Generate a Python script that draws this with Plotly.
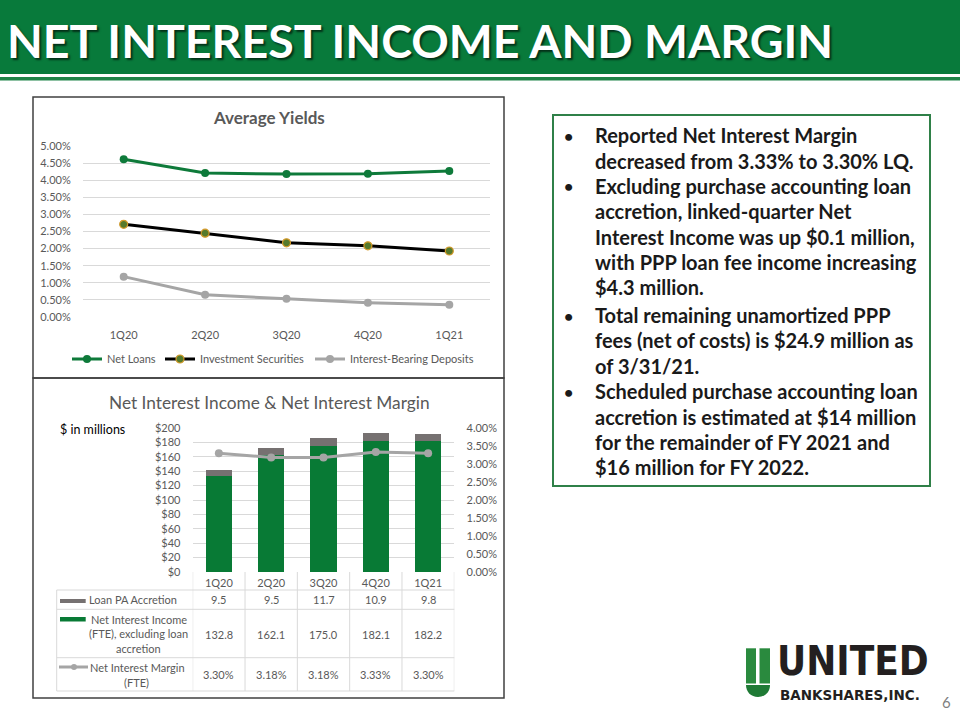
import plotly.graph_objects as go

# ---------------- data ----------------
quarters = ["1Q20", "2Q20", "3Q20", "4Q20", "1Q21"]

# Average yields (%)
net_loans = [4.61, 4.21, 4.18, 4.19, 4.27]
investment_securities = [2.71, 2.45, 2.17, 2.08, 1.93]
ib_deposits = [1.18, 0.65, 0.53, 0.42, 0.36]

# Net interest income ($ millions) and margin (%)
loan_pa_accretion = [9.5, 9.5, 11.7, 10.9, 9.8]
nii_excl_accretion = [132.8, 162.1, 175.0, 182.1, 182.2]
nim_fte = [3.30, 3.18, 3.18, 3.33, 3.30]

bullets = [
    ["Reported Net Interest Margin", "decreased from 3.33% to 3.30% LQ."],
    ["Excluding purchase accounting loan", "accretion, linked-quarter Net",
     "Interest Income was up $0.1 million,", "with PPP loan fee income increasing",
     "$4.3 million."],
    ["Total remaining unamortized PPP", "fees (net of costs) is $24.9 million as",
     "of 3/31/21."],
    ["Scheduled purchase accounting loan", "accretion is estimated at $14 million",
     "for the remainder of FY 2021 and", "$16 million for FY 2022."],
]

# ---------------- styling ----------------
W, H = 960, 720
GREEN = "#087a3b"
STRIPE = "#1f8448"
BAR_GREEN = "#087a35"
BAR_GRAY = "#767171"
LINE_GRAY = "#a5a5a5"
TXT = "#595959"
GRID = "#d9d9d9"
FONT = "Lato, 'Open Sans', sans-serif"
COND = "'DejaVu Sans Condensed', 'DejaVu Sans', sans-serif"


def px(x):
    return x / W


def py(y):
    return 1 - y / H


fig = go.Figure()

# ---- top chart: average yields ----
fig.add_trace(go.Scatter(
    x=quarters, y=net_loans, name="Net Loans", mode="lines+markers",
    line=dict(color="#0e7a3a", width=3), marker=dict(size=8, color="#0e7a3a"),
    xaxis="x", yaxis="y", legend="legend"))
fig.add_trace(go.Scatter(
    x=quarters, y=investment_securities, name="Investment Securities", mode="lines+markers",
    line=dict(color="#000000", width=3),
    marker=dict(size=8, color="#567a2c", line=dict(color="#d49a2a", width=1.2)),
    xaxis="x", yaxis="y", legend="legend2"))
fig.add_trace(go.Scatter(
    x=quarters, y=ib_deposits, name="Interest-Bearing Deposits", mode="lines+markers",
    line=dict(color=LINE_GRAY, width=3), marker=dict(size=8, color=LINE_GRAY),
    xaxis="x", yaxis="y", legend="legend3"))

# ---- bottom chart: NII & NIM ----
fig.add_trace(go.Bar(
    x=quarters, y=nii_excl_accretion, name="Net Interest Income (FTE), excluding loan accretion",
    marker=dict(color=BAR_GREEN, line=dict(width=0)), xaxis="x2", yaxis="y2", showlegend=False))
fig.add_trace(go.Bar(
    x=quarters, y=loan_pa_accretion, name="Loan PA Accretion",
    marker=dict(color=BAR_GRAY, line=dict(width=0)), xaxis="x2", yaxis="y2", showlegend=False))
fig.add_trace(go.Scatter(
    x=quarters, y=nim_fte, name="Net Interest Margin (FTE)", mode="lines+markers",
    line=dict(color=LINE_GRAY, width=3), marker=dict(size=8, color=LINE_GRAY),
    xaxis="x2", yaxis="y3", showlegend=False))

tickfont = dict(family=FONT, size=11, color=TXT)
clear = "rgba(0,0,0,0)"


def leg(x):
    return dict(orientation="h", x=px(x), y=py(359), xanchor="left", yanchor="middle",
                font=dict(family=FONT, size=11, color=TXT), bgcolor=clear,
                itemwidth=30, traceorder="normal", borderwidth=0)


fig.update_layout(
    width=W, height=H, margin=dict(l=0, r=0, t=0, b=0, pad=0, autoexpand=False),
    paper_bgcolor="white", plot_bgcolor="rgba(0,0,0,0)",
    barmode="stack", bargap=0.5,
    font=dict(family=FONT, color=TXT),
    xaxis=dict(domain=[px(83), px(490)], anchor="y", range=[-0.5, 4.5],
               showgrid=False, showline=False, zeroline=False, automargin=False,
               ticks="outside", ticklen=8, tickcolor=clear, tickfont=tickfont),
    yaxis=dict(domain=[py(317), py(146)], anchor="x", range=[0, 5.0001], dtick=0.5,
               tickformat=".2f", ticksuffix="%", gridcolor=GRID, gridwidth=1,
               zeroline=False, showline=False, automargin=False,
               ticks="outside", ticklen=9, tickcolor=clear, tickfont=tickfont),
    xaxis2=dict(domain=[px(192.7), px(454.3)], anchor="y2", range=[-0.5, 4.5],
                showgrid=False, showline=False, zeroline=False, automargin=False,
                ticks="outside", ticklen=1, tickcolor=clear, tickfont=tickfont),
    yaxis2=dict(domain=[py(572), py(428)], anchor="x2", range=[0, 200.01], dtick=20,
                tickprefix="$", gridcolor=GRID, gridwidth=1, zeroline=False, showline=False,
                automargin=False,
                ticks="outside", ticklen=9, tickcolor=clear, tickfont=tickfont),
    yaxis3=dict(overlaying="y2", anchor="x2", side="right", range=[0, 4.0001], dtick=0.5,
                tickformat=".2f", ticksuffix="%", showgrid=False, zeroline=False,
                showline=False, automargin=False,
                ticks="outside", ticklen=9, tickcolor=clear, tickfont=tickfont),
    legend=leg(67), legend2=leg(160), legend3=leg(310),
)

shapes = []
annotations = []


def note(text, x, y, size, color=TXT, family=FONT, xanchor="center", xref="paper", **fontkw):
    annotations.append(dict(text=text, x=x if xref != "paper" else px(x), y=py(y),
                            xref=xref, yref="paper", xanchor=xanchor, yanchor="middle",
                            showarrow=False,
                            font=dict(family=family, size=size, color=color, **fontkw)))


# header band
shapes.append(dict(type="rect", xref="paper", yref="paper", x0=0, x1=1, y0=py(74), y1=py(0),
                   fillcolor=GREEN, line=dict(width=0), layer="below"))
shapes.append(dict(type="rect", xref="paper", yref="paper", x0=0, x1=1, y0=py(80.5), y1=py(77),
                   fillcolor=STRIPE, line=dict(width=0), layer="below"))
note("<b>NET INTEREST INCOME AND MARGIN</b>", 5, 40, 46.5, color="white", xanchor="left",
     shadow="2px 2px 2px rgba(0,0,0,0.6)")

# chart boxes
for (y0, y1) in [(97, 378), (378, 698)]:
    shapes.append(dict(type="rect", xref="paper", yref="paper", x0=px(33), x1=px(504),
                       y0=py(y1), y1=py(y0), line=dict(color="#404040", width=1.5),
                       fillcolor=clear, layer="below"))

note("<b>Average Yields</b>", 269, 118, 17)
note("Net Interest Income & Net Interest Margin", 269, 402, 17.3)
note("$ in millions", 58, 429, 12.5, color="#000000", xanchor="left")

# data table lines
tl = dict(color=GRID, width=1)
for yy in [590, 609.3, 657.7, 691]:
    shapes.append(dict(type="line", xref="paper", yref="paper", x0=px(56.7), x1=px(454.3),
                       y0=py(yy), y1=py(yy), line=tl))
shapes.append(dict(type="line", xref="paper", yref="paper", x0=px(56.7), x1=px(56.7),
                   y0=py(590), y1=py(691), line=tl))
for k in range(len(quarters) + 1):
    shapes.append(dict(type="line", xref="x2", yref="paper", x0=k - 0.5, x1=k - 0.5,
                       y0=py(572), y1=py(691), line=tl))

# table values
row_y = [599.5, 634, 674.5]
for i, q in enumerate(quarters):
    note(f"{loan_pa_accretion[i]:.1f}", q, row_y[0], 11, xref="x2")
    note(f"{nii_excl_accretion[i]:.1f}", q, row_y[1], 11, xref="x2")
    note(f"{nim_fte[i]:.2f}%", q, row_y[2], 11, xref="x2")

# table row labels + keys
row_labels = [("Loan PA Accretion", 132.5, 599.5),
              ("Net Interest Income", 138.7, 619),
              ("(FTE), excluding loan", 138.4, 633.5),
              ("accretion", 138.8, 648),
              ("Net Interest Margin", 137, 667),
              ("(FTE)", 136.5, 682)]
for txt, xx, yy in row_labels:
    note(txt, xx, yy, 11)
shapes.append(dict(type="rect", xref="paper", yref="paper", x0=px(60), x1=px(85.7),
                   y0=py(603), y1=py(599), fillcolor=BAR_GRAY, line=dict(width=0)))
shapes.append(dict(type="rect", xref="paper", yref="paper", x0=px(60), x1=px(85.7),
                   y0=py(621.5), y1=py(617), fillcolor=BAR_GREEN, line=dict(width=0)))
shapes.append(dict(type="line", xref="paper", yref="paper", x0=px(59), x1=px(88),
                   y0=py(667), y1=py(667), line=dict(color=LINE_GRAY, width=3)))
shapes.append(dict(type="circle", xref="paper", yref="paper", x0=px(71), x1=px(77),
                   y0=py(670), y1=py(664), fillcolor=LINE_GRAY, line=dict(width=0)))

# right text box
shapes.append(dict(type="rect", xref="paper", yref="paper", x0=px(553), x1=px(930),
                   y0=py(486), y1=py(115), line=dict(color="#2f8048", width=2), fillcolor="white",
                   layer="below"))
line_y = [135, 160.5, 186, 211, 236.5, 262, 287, 315, 340, 365.5, 391.5, 417, 442, 467]
li = 0
for block in bullets:
    note("<b>•</b>", 568, line_y[li], 16, color="#1a1a1a")
    for ln in block:
        note(f"<b>{ln}</b>", 593, line_y[li], 20, color="#1a1a1a", xanchor="left")
        li += 1

# logo
LG = "#2a8a3e"
shapes.append(dict(type="rect", xref="paper", yref="paper", x0=px(746), x1=px(756),
                   y0=py(683.5), y1=py(648.3), fillcolor=LG, line=dict(width=0)))
shapes.append(dict(type="rect", xref="paper", yref="paper", x0=px(759.5), x1=px(770),
                   y0=py(683.5), y1=py(648.3), fillcolor=LG, line=dict(width=0)))
bowl = (f"M {px(746)},{py(685)} L {px(770)},{py(685)} "
        f"C {px(770)},{py(692)} {px(765)},{py(697)} {px(758)},{py(697)} "
        f"C {px(751)},{py(697)} {px(746)},{py(692)} {px(746)},{py(685)} Z")
shapes.append(dict(type="path", xref="paper", yref="paper", path=bowl,
                   fillcolor="#1f7a35", line=dict(width=0)))
note("<b>UNITED</b>", 775, 661, 40, color="#231f20", family=COND, xanchor="left")
note("<b>BANKSHARES,INC.</b>", 778, 694.5, 13.5, color="#231f20",
     family="'DejaVu Sans', sans-serif", xanchor="left")
note("6", 946, 702, 15, color="#7f7f7f")

fig.update_layout(shapes=shapes, annotations=annotations)

pin = ("document.documentElement.style.margin='0px';"
       "document.body.style.margin='0px';document.body.style.overflow='hidden';"
       "var gd=document.getElementById('{plot_id}');"
       "gd.style.position='fixed';gd.style.left='0px';gd.style.top='0px';")
fig.write_html("out.html", config={"displayModeBar": False}, post_script=pin)
